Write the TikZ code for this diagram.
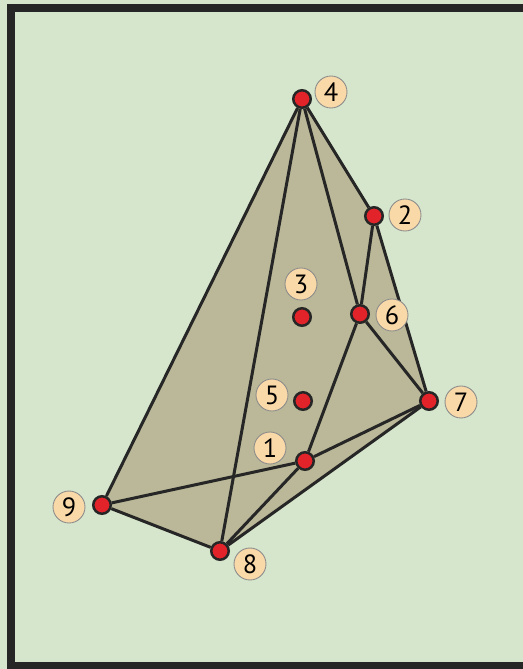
\documentclass[tikz,border=0pt]{standalone}
\usepackage{fontspec}
\setsansfont{PT Sans}
\definecolor{bgGreen}{RGB}{214,230,204}
\definecolor{hullOlive}{RGB}{186,184,152}
\definecolor{ptRed}{RGB}{226,36,42}
\definecolor{tagPeach}{RGB}{250,217,168}
\definecolor{lineDark}{RGB}{38,38,38}
\tikzset{
  dot/.style={circle, fill=ptRed, draw=lineDark, line width=0.05cm, minimum size=0.35cm, inner sep=0pt},
  tag/.style={circle, fill=tagPeach, draw=black!45, line width=0.5pt, minimum size=0.64cm, inner sep=0pt, font=\sffamily\fontsize{15}{15}\selectfont},
  edge/.style={lineDark, line width=0.06cm}
}
\begin{document}
\begin{tikzpicture}[x=0.02cm, y=-0.02cm]
\useasboundingbox (0,0) rectangle (523,669);
\fill[bgGreen] (0,0) rectangle (523,669);
\draw[lineDark, line width=0.16cm] (11,8) rectangle (545,666);
% points
\coordinate (c1) at (305,461);
\coordinate (c2) at (374,216);
\coordinate (c3) at (302,317);
\coordinate (c4) at (302,99);
\coordinate (c5) at (303,401);
\coordinate (c6) at (360,314);
\coordinate (c7) at (429,401);
\coordinate (c8) at (220,551);
\coordinate (c9) at (102,505);
\fill[hullOlive] (c4) -- (c2) -- (c7) -- (c8) -- (c9) -- cycle;
\foreach \i in {1,...,9} {
  \node[dot] (p\i) at (c\i) {};
}
\draw[edge] (p4) -- (p9);
\draw[edge] (p4) -- (p8);
\draw[edge] (p4) -- (p6);
\draw[edge] (p4) -- (p2);
\draw[edge] (p2) -- (p6);
\draw[edge] (p2) -- (p7);
\draw[edge] (p6) -- (p7);
\draw[edge] (p6) -- (p1);
\draw[edge] (p1) -- (p7);
\draw[edge] (p1) -- (p9);
\draw[edge] (p1) -- (p8);
\draw[edge] (p8) -- (p7);
\draw[edge] (p9) -- (p8);
% labels
\node[tag] (t1) at (270,448) {1};
\node[tag] (t2) at (405,215) {2};
\node[tag] (t3) at (301,284) {3};
\node[tag] (t4) at (331,92) {4};
\node[tag] (t5) at (272,395) {5};
\node[tag] (t6) at (392,315) {6};
\node[tag] (t7) at (461,402) {7};
\node[tag] (t8) at (250,564) {8};
\node[tag] (t9) at (69,507) {9};
\end{tikzpicture}
\end{document}
